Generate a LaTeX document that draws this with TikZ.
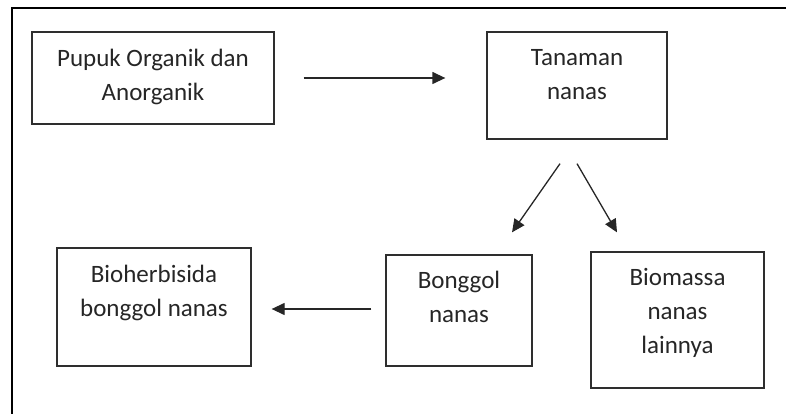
\documentclass[tikz,border=0pt]{standalone}
\usepackage{fontspec}
\setmainfont{Carlito}
\usetikzlibrary{arrows.meta,calc}
\definecolor{boxline}{HTML}{2E2E2E}
\definecolor{txtcol}{HTML}{262626}
\tikzset{
  box/.style={draw=boxline, line width=1.3pt, rectangle, inner sep=0pt},
  txt/.style={text=txtcol, font=\fontsize{25}{34}\selectfont, align=center, inner sep=0pt},
  arr/.style={draw=black!85, line width=1.3pt, -{Triangle[length=13pt,width=12pt]}},
  frame/.style={draw=black, line width=2.4pt, line join=miter}
}
\begin{document}
\begin{tikzpicture}[x=1pt,y=-1pt]
\useasboundingbox (0,0) rectangle (786,414);
\draw[frame] (12,416) -- (12,8) -- (788,8);
% boxes
\node[box, minimum width=242pt, minimum height=92pt] (b1) at (153,78) {};
\node[box, minimum width=180pt, minimum height=107pt] (b2) at (577,85.5) {};
\node[box, minimum width=194pt, minimum height=118pt] (b3) at (154,307) {};
\node[box, minimum width=146pt, minimum height=111pt] (b4) at (459,310.5) {};
\node[box, minimum width=173pt, minimum height=136pt] (b5) at (677.5,320) {};
% texts
\node[txt] (t1) at (153,77.2) {\strut Pupuk Organik dan\\\strut Anorganik};
\node[txt] (t2) at (577,76.2) {\strut Tanaman\\\strut nanas};
\node[txt] (t3) at (154,292.2) {\strut Bioherbisida\\\strut bonggol nanas};
\node[txt] (t4) at (459,298.2) {\strut Bonggol\\\strut nanas};
\node[txt] (t5) at (677.5,312.2) {\strut Biomassa\\\strut nanas\\\strut lainnya};
% arrows
\draw[arr] ($(b1.east)+(29,0)$) -- ($(b2.west)+(-41,-7.5)$);
\draw[arr] ($(b2.south)+(-17,24)$) -- ($(b4.north)+(53,-22)$);
\draw[arr] ($(b2.south)+(0,24)$) -- ($(b5.north)+(-60.5,-19)$);
\draw[arr] ($(b4.west)+(-14,-1.5)$) -- ($(b3.east)+(20,2)$);
\end{tikzpicture}
\end{document}
